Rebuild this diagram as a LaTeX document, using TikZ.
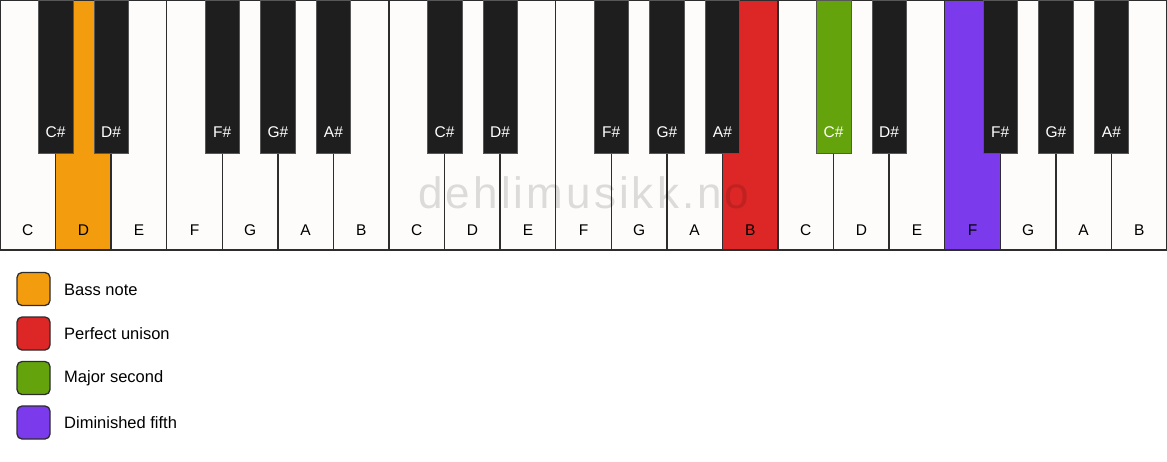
\documentclass[tikz,border=0pt]{standalone}
\usepackage{fontspec}
\setmainfont{Liberation Sans}
\definecolor{keywhite}{RGB}{253,252,250}
\definecolor{keyblack}{RGB}{30,30,30}
\definecolor{keyline}{RGB}{45,45,45}
\definecolor{bass}{RGB}{243,157,14}
\definecolor{unison}{RGB}{221,38,38}
\definecolor{second}{RGB}{101,163,13}
\definecolor{fifth}{RGB}{124,58,237}
\tikzset{
  wkey/.style={draw=keyline, line width=1.3pt, minimum width=55.571pt, minimum height=250pt, inner sep=0pt, outer sep=0pt},
  bkey/.style={draw=keyline!80, line width=0.4pt, minimum width=34.5pt, minimum height=153pt, inner sep=0pt, outer sep=0pt},
  wlabel/.style={font=\fontsize{15.5}{18}\selectfont, text=black, inner sep=0pt},
  blabel/.style={font=\fontsize{15.5}{18}\selectfont, text=white, inner sep=0pt},
  legbox/.style={draw=keyline, line width=1.3pt, rounded corners=5pt, minimum width=33pt, minimum height=33pt, inner sep=0pt},
  legtext/.style={font=\fontsize{16.5}{19}\selectfont, anchor=west, inner sep=0pt},
  watermark/.style={font=\fontsize{44}{50}\selectfont\addfontfeature{LetterSpace=7}, text=black, text opacity=0.13, inner sep=0pt}
}
\begin{document}
\begin{tikzpicture}[x=1pt,y=-1pt]
\useasboundingbox (0,0) rectangle (1167,461);
\fill[white] (0,0) rectangle (1167,461);
\def\W{55.571}
% white keys
\foreach \n/\c [count=\i from 0] in {C/keywhite,D/bass,E/keywhite,F/keywhite,G/keywhite,A/keywhite,B/keywhite,C/keywhite,D/keywhite,E/keywhite,F/keywhite,G/keywhite,A/keywhite,B/unison,C/keywhite,D/keywhite,E/keywhite,F/fifth,G/keywhite,A/keywhite,B/keywhite}{
  \node[wkey, fill=\c] (wk\i) at ({(\i+0.5)*\W},125) {};
  \node[wlabel] (wl\i) at ({(\i+0.5)*\W},230) {\n};
}
% watermark
\node[watermark] (wm) at (584,193) {dehlimusikk.no};
% black keys
\foreach \b/\n/\c in {1/C\#/keyblack,2/D\#/keyblack,4/F\#/keyblack,5/G\#/keyblack,6/A\#/keyblack,8/C\#/keyblack,9/D\#/keyblack,11/F\#/keyblack,12/G\#/keyblack,13/A\#/keyblack,15/C\#/second,16/D\#/keyblack,18/F\#/keyblack,19/G\#/keyblack,20/A\#/keyblack}{
  \node[bkey, fill=\c] (bk\b) at ({\b*\W},76.5) {};
  \node[blabel] (bl\b) at ({\b*\W},132.5) {\n};
}
% legend
\foreach \c/\t [count=\j from 0] in {bass/Bass note,unison/Perfect unison,second/Major second,fifth/Diminished fifth}{
  \node[legbox, fill=\c] (lb\j) at (33.5,{289+44.5*\j}) {};
  \node[legtext] (lt\j) at (64,{289.5+44.5*\j}) {\t};
}
\end{tikzpicture}
\end{document}
